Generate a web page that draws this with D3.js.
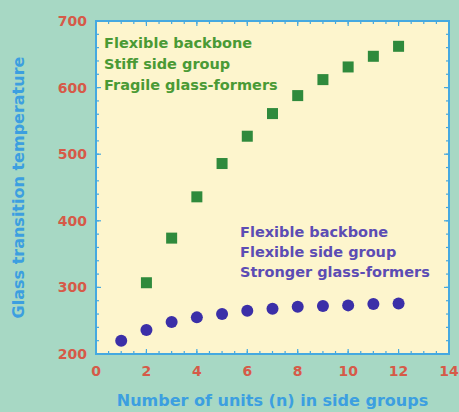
<!DOCTYPE html>
<html>
<head>
<meta charset="utf-8">
<script src="https://cdn.jsdelivr.net/npm/d3@7"></script>
<style>
  html, body { margin: 0; padding: 0; background: #a7d8c4; }
  svg { display: block; }
</style>
</head>
<body>
<div id="chart"></div>
<script>
// data
var stiffN = [2, 3, 4, 5, 6, 7, 8, 9, 10, 11, 12];
var stiffTg = [307, 374, 436, 486, 527, 561, 588, 612, 631, 647, 662];
var flexN = [1, 2, 3, 4, 5, 6, 7, 8, 9, 10, 11, 12];
var flexTg = [220, 236, 248, 255, 260, 265, 268, 271, 272, 273, 275, 276];
var xTicks = [0, 2, 4, 6, 8, 10, 12, 14];
var yTicks = [200, 300, 400, 500, 600, 700];
var stiffLabel = ["Flexible backbone", "Stiff side group", "Fragile glass-formers"];
var flexLabel = ["Flexible backbone", "Flexible side group", "Stronger glass-formers"];

var W = 459, H = 412;
var margin = { top: 21, right: 10, bottom: 58, left: 96 },
  width = W - margin.left - margin.right,
  height = H - margin.top - margin.bottom;

var axisColor = "#45a9e0";
var font = "'DejaVu Sans', Verdana, sans-serif";

var svg = d3
  .select("#chart")
  .append("svg")
  .attr("width", W)
  .attr("height", H);

svg.append("rect").attr("width", W).attr("height", H).attr("fill", "#a7d8c4");

var g = svg
  .append("g")
  .attr("transform", "translate(" + margin.left + "," + margin.top + ")");

var x = d3.scaleLinear().domain([0, 14]).range([0, width]);
var y = d3.scaleLinear().domain([200, 700]).range([height, 0]);

g.append("rect")
  .attr("width", width)
  .attr("height", height)
  .attr("fill", "#fdf5cd");

// minor + major ticks on all four sides, pointing inward
var xMinor = d3.range(0, 14.01, 0.5);
var yMinor = d3.range(200, 700.1, 20);

function tickLine(sel, data, pos, len, side) {
  sel
    .selectAll(null)
    .data(data)
    .enter()
    .append("line")
    .attr("stroke", axisColor)
    .attr("stroke-width", 1.2)
    .attr("x1", function (d) {
      if (side == "b" || side == "t") return pos(d);
      return side == "l" ? 0 : width;
    })
    .attr("x2", function (d) {
      if (side == "b" || side == "t") return pos(d);
      return side == "l" ? len : width - len;
    })
    .attr("y1", function (d) {
      if (side == "l" || side == "r") return pos(d);
      return side == "b" ? height : 0;
    })
    .attr("y2", function (d) {
      if (side == "l" || side == "r") return pos(d);
      return side == "b" ? height - len : len;
    });
}

var ticks = g.append("g");
["b", "t"].forEach(function (s) {
  tickLine(ticks, xMinor, x, 3, s);
  tickLine(ticks, xTicks, x, 5, s);
});
["l", "r"].forEach(function (s) {
  tickLine(ticks, yMinor, y, 3, s);
  tickLine(ticks, yTicks, y, 5, s);
});

g.append("rect")
  .attr("width", width)
  .attr("height", height)
  .attr("fill", "none")
  .attr("stroke", axisColor)
  .attr("stroke-width", 2);

// tick labels
g.selectAll(".xl")
  .data(xTicks)
  .enter()
  .append("text")
  .attr("x", function (d) { return x(d); })
  .attr("y", height + 22)
  .attr("text-anchor", "middle")
  .attr("font-family", font)
  .attr("font-weight", "bold")
  .attr("font-size", 14)
  .attr("fill", "#d65a48")
  .text(function (d) { return d; });

g.selectAll(".yl")
  .data(yTicks)
  .enter()
  .append("text")
  .attr("x", -9)
  .attr("y", function (d) { return y(d); })
  .attr("dy", "0.35em")
  .attr("text-anchor", "end")
  .attr("font-family", font)
  .attr("font-weight", "bold")
  .attr("font-size", 14)
  .attr("fill", "#d65a48")
  .text(function (d) { return d; });

// axis titles
svg.append("text")
  .attr("x", margin.left + width / 2)
  .attr("y", 406)
  .attr("text-anchor", "middle")
  .attr("font-family", font)
  .attr("font-weight", "bold")
  .attr("font-size", 16)
  .attr("fill", "#3c9fe0")
  .text("Number of units (n) in side groups");

svg.append("text")
  .attr("transform", "translate(24," + (margin.top + height / 2) + ") rotate(-90)")
  .attr("text-anchor", "middle")
  .attr("font-family", font)
  .attr("font-weight", "bold")
  .attr("font-size", 16)
  .attr("fill", "#3c9fe0")
  .text("Glass transition temperature");

// green squares
var sq = 11;
g.selectAll(".sq")
  .data(stiffN)
  .enter()
  .append("rect")
  .attr("x", function (d) { return x(d) - sq / 2; })
  .attr("y", function (d, i) { return y(stiffTg[i]) - sq / 2; })
  .attr("width", sq)
  .attr("height", sq)
  .attr("fill", "#2f8a3c");

// purple circles
g.selectAll(".ci")
  .data(flexN)
  .enter()
  .append("circle")
  .attr("cx", function (d) { return x(d); })
  .attr("cy", function (d, i) { return y(flexTg[i]); })
  .attr("r", 6)
  .attr("fill", "#3b2fa8");

// annotations
g.selectAll(".gl")
  .data(stiffLabel)
  .enter()
  .append("text")
  .attr("x", 8)
  .attr("y", function (d, i) { return 27 + i * 21; })
  .attr("font-family", font)
  .attr("font-weight", "bold")
  .attr("font-size", 14.5)
  .attr("fill", "#4a9a35")
  .text(function (d) { return d; });

g.selectAll(".pl")
  .data(flexLabel)
  .enter()
  .append("text")
  .attr("x", 144)
  .attr("y", function (d, i) { return 216 + i * 20; })
  .attr("font-family", font)
  .attr("font-weight", "bold")
  .attr("font-size", 14.5)
  .attr("fill", "#5c4cb4")
  .text(function (d) { return d; });
</script>
</body>
</html>
